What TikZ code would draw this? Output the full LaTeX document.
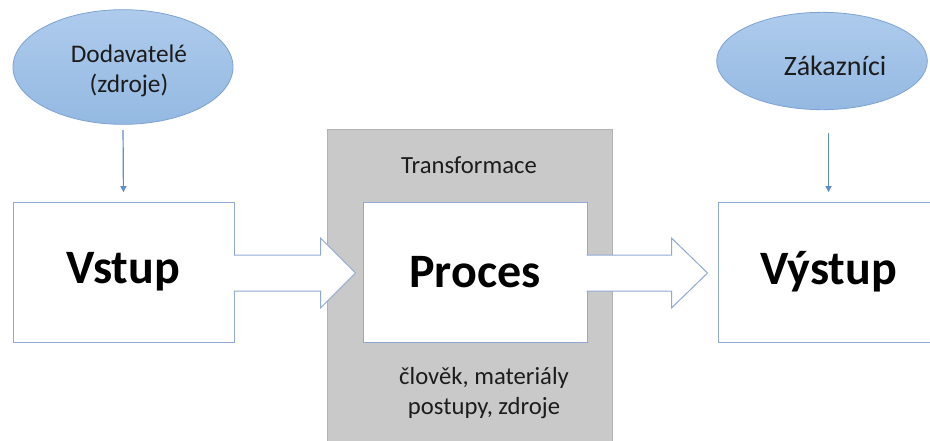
\documentclass[tikz,border=0pt]{standalone}
\usepackage{fontspec}
\setmainfont{Carlito}
\usepackage{tikz}
\usetikzlibrary{arrows.meta, positioning, shapes.geometric}
\usepackage{xcolor}

\definecolor{ovaltop}{HTML}{AECBEC}
\definecolor{ovalbottom}{HTML}{94B9E2}
\definecolor{ovalline}{HTML}{7DA2D2}
\definecolor{boxline}{HTML}{8FA9D4}
\definecolor{grayfill}{HTML}{C9C9C9}
\definecolor{grayline}{HTML}{B2B2B2}
\definecolor{linkcol}{HTML}{5E8FC9}
\definecolor{textcol}{HTML}{1C1C1C}

\begin{document}
\begin{tikzpicture}[x=0.75pt, y=-0.75pt,
ovalnode/.style={ellipse, draw=ovalline, line width=0.6pt, top color=ovaltop, bottom color=ovalbottom, inner sep=0pt},
bignode/.style={rectangle, draw=boxline, fill=white, line width=0.75pt, minimum height=105pt, text=black, font=\fontsize{36}{42}\selectfont\bfseries},
graynode/.style={rectangle, draw=grayline, fill=grayfill, line width=0.6pt, minimum width=213.75pt, minimum height=240.75pt},
smalltext/.style={align=center, text=textcol, font=\fontsize{18.5}{22.5}\selectfont},
fatarrow/.style={draw=boxline, fill=white, line width=0.75pt, line join=miter},
linkarrow/.style={draw=linkcol, line width=0.9pt, -{Triangle[width=4.5pt,length=4.5pt]}},
]
\useasboundingbox (0,0) rectangle (930,440);
\clip (0,0) rectangle (930,440);

%Nodes
\node[graynode] at (469.5,289.5) (transf) {};
\node[bignode, minimum width=165.75pt] at (123.5,272) (vstup) {Vstup};
\node[bignode, minimum width=168pt] at (475,272) (proces) {Proces};
\node[bignode, minimum width=165.75pt] at (828.5,272) (vystup) {Výstup};
\node[smalltext] at (469,165) (transtxt) {Transformace};
\node[smalltext] at (484,393) (zdrojtxt) {člověk, materiály\\postupy, zdroje};
\node[ovalnode, minimum width=165pt, minimum height=86pt] at (123,67) (dodav) {};
\node[smalltext, font=\fontsize{19}{23}\selectfont] at (129,71) (dodavtxt) {Dodavatelé\\(zdroje)};
\node[ovalnode, minimum width=158pt, minimum height=73pt] at (822,61) (zakaz) {};
\node[smalltext, font=\fontsize{21}{25}\selectfont] at (835,66) (zaktxt) {Zákazníci};

%Block arrows
\path[fatarrow] (vstup.east) ++(-1,-17) -- ++(87,0) -- ++(0,-17) -- ++(35,35) -- ++(-35,35) -- ++(0,-17) -- ++(-87,0);
\path[fatarrow] (proces.east) ++(-1,-17) -- ++(85,0) -- ++(0,-17) -- ++(36,35) -- ++(-36,35) -- ++(0,-17) -- ++(-85,0);

%Lines
\draw[linkarrow, shorten <=4pt, shorten >=7pt] (dodav.south) -- (vstup.north);
\draw[linkarrow, shorten <=17pt, shorten >=7pt] (vystup.north |- zakaz.south) -- (vystup.north);

\end{tikzpicture}
\end{document}
